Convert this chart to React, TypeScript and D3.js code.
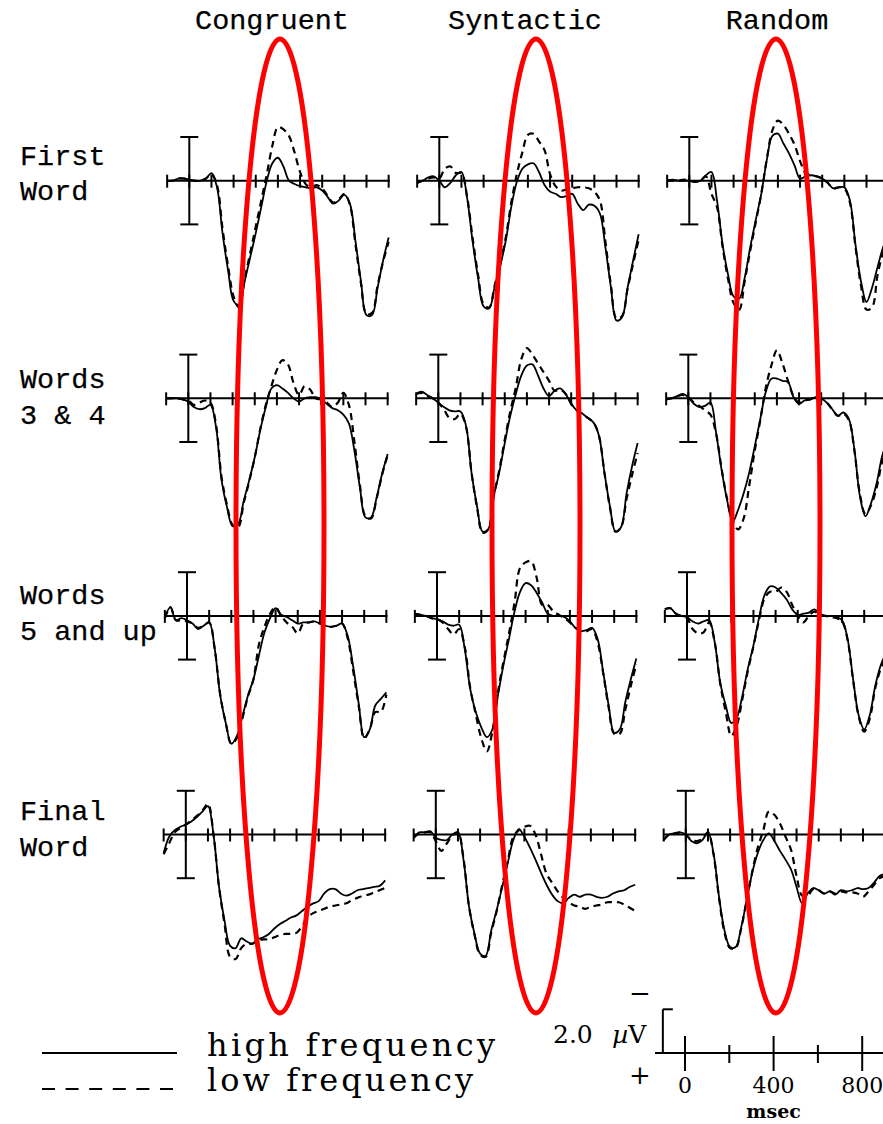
import React from 'react';
import * as d3 from 'd3';

// ---- data -----------------------------------------------------------------
// Sample times (ms relative to word onset) shared by every waveform.
const TIMES = [
  -100, -75, -50, -25, 0, 25, 50, 75, 100, 125, 150, 175, 200, 225, 250, 275, 300, 325, 350, 375,
  400, 425, 450, 475, 500, 525, 550, 575, 600, 625, 650, 675, 700, 725, 750, 775, 800, 825, 850, 875, 900,
];

const CONDITIONS = ['Congruent', 'Syntactic', 'Random'];
const POSITIONS = [
  ['First', 'Word'],
  ['Words', '3 & 4'],
  ['Words', '5 and up'],
  ['Final', 'Word'],
];

// Grand-average amplitudes in microvolts (negative plotted up).
const congruentFirstHigh = [0, 0, -0.1, -0.1, -0.05, 0, 0, -0.1, -0.35, 0.3, 2.4, 4.1, 5.5, 5.7, 4.6, 3.5, 2.4, 1.2, 0, -0.8, -1.05, -0.65, 0, 0.15, 0.25, 0.3, 0.35, 0.3, 0.45, 0.75, 1.05, 0.9, 0.65, 1.05, 2.75, 4.6, 6.15, 6.15, 4.9, 3.65, 2.6];
const congruentFirstLow = [0, 0, -0.1, -0.1, -0.05, 0, 0, -0.1, -0.3, 0.2, 2.2, 3.9, 5.3, 5.8, 4.5, 3.3, 2.1, 0.9, -0.3, -1.6, -2.45, -2.35, -2.05, -1.3, -0.4, 0.15, 0.3, 0.2, 0.35, 0.7, 1.0, 0.85, 0.6, 1.1, 2.9, 4.7, 6.1, 6.05, 4.8, 3.7, 2.8];
const syntacticFirstHigh = [0.1, 0, -0.15, -0.2, 0, 0.3, 0.1, -0.25, -0.4, 0.75, 2.75, 4.45, 5.75, 5.85, 4.85, 3.9, 2.75, 1.2, 0.05, -0.55, -0.75, -0.8, -0.4, 0.2, 0.5, 0.6, 0.75, 0.7, 0.6, 1.05, 1.35, 1.1, 1.15, 1.5, 3.05, 4.9, 6.4, 6.25, 4.9, 3.65, 2.45];
const syntacticFirstLow = [0.1, 0, -0.1, -0.15, -0.1, -0.55, -0.65, -0.35, -0.35, 0.7, 2.6, 4.3, 5.65, 5.8, 4.8, 3.8, 2.6, 1.0, -0.3, -1.3, -2.1, -2.15, -1.8, -1.4, -0.3, 0.25, 0.45, 0.4, 0.35, 0.3, 0.3, 0.35, 0.5, 0.9, 2.8, 4.8, 6.3, 6.2, 4.95, 3.8, 2.7];
const randomFirstHigh = [0, -0.05, 0, 0, 0, 0.05, 0, -0.25, -0.4, 0.9, 2.9, 4.3, 5.3, 5.4, 4.45, 3.05, 1.8, 0.6, -0.95, -2.05, -2.15, -1.7, -1.25, -0.7, -0.1, -0.2, -0.25, -0.2, -0.1, 0.1, 0.35, 0.3, 0.3, 0.9, 2.9, 4.6, 5.55, 4.9, 3.95, 3.05, 2.45];
const randomFirstLow = [0, 0, 0, -0.05, 0, 0.05, 0, -0.2, 0.6, 1.2, 3.0, 4.5, 5.6, 5.9, 4.6, 3.2, 1.9, 0.6, -1.0, -2.3, -2.75, -2.55, -2.15, -1.65, -0.9, -0.35, -0.25, -0.2, -0.1, 0.1, 0.35, 0.3, 0.35, 1.0, 3.0, 4.8, 5.9, 5.8, 4.3, 3.3, 2.6];

const congruentEarlyHigh = [0, 0, 0, 0.05, 0.15, 0.4, 0.5, 0.45, 0.3, 1.3, 3.75, 5.0, 5.85, 5.75, 4.7, 3.75, 2.7, 1.45, 0.4, -0.45, -0.6, -0.45, -0.25, 0, 0.15, 0, -0.05, -0.05, 0.05, 0.25, 0.45, 0.55, 0.75, 1.15, 2.4, 4.1, 5.45, 5.45, 4.55, 3.45, 2.55];
const congruentEarlyLow = [0, 0, 0, 0.05, 0.1, 0.3, 0.2, 0.1, 0.2, 1.2, 3.6, 4.9, 5.8, 5.9, 4.8, 3.8, 2.7, 1.4, 0.3, -0.55, -1.3, -1.75, -1.55, -0.7, -0.15, -0.55, -0.4, 0, 0.05, 0.2, 0.4, 0.2, -0.25, 0.3, 2.0, 4.0, 5.4, 5.5, 4.6, 3.5, 2.6];
const syntacticEarlyHigh = [-0.2, -0.3, -0.15, 0, 0.2, 0.4, 0.55, 0.6, 0.6, 1.25, 3.4, 4.95, 6.1, 6.0, 4.5, 3.4, 2.05, 0.8, -0.2, -1.05, -1.5, -1.55, -1.05, -0.45, -0.1, -0.35, -0.45, -0.2, 0.25, 0.55, 0.7, 0.9, 1.1, 1.7, 3.4, 4.95, 6.1, 5.9, 4.35, 3.1, 2.05];
const syntacticEarlyLow = [-0.2, -0.25, -0.1, 0, 0.2, 0.5, 0.9, 0.95, 0.7, 1.3, 3.4, 5.0, 6.15, 6.0, 4.5, 3.3, 1.9, 0.6, -0.5, -1.8, -2.3, -2.0, -1.6, -1.2, -0.8, -0.35, -0.4, -0.2, 0.25, 0.55, 0.7, 0.9, 1.1, 1.7, 3.4, 5.0, 6.1, 5.9, 4.6, 3.5, 2.5];
const randomEarlyHigh = [0.05, 0, -0.1, -0.2, -0.05, 0.25, 0.4, 0.35, 0.2, 1.55, 3.25, 4.65, 5.65, 5.1, 4.35, 3.4, 2.2, 0.95, -0.3, -0.9, -0.9, -0.8, -0.75, -0.05, 0.25, 0.1, 0.05, -0.05, 0, 0.2, 0.5, 0.8, 0.65, 0.95, 2.35, 4.5, 5.4, 4.8, 3.9, 2.65, 1.9];
const randomEarlyLow = [0.05, 0, -0.1, -0.15, -0.05, 0.2, 0.35, 0.55, 0.75, 1.6, 3.2, 4.6, 5.6, 6.0, 5.5, 4.0, 2.4, 1.0, -0.5, -1.5, -2.2, -1.6, -0.8, -0.1, 0.2, 0.1, 0.05, -0.05, 0, 0.2, 0.5, 0.8, 0.7, 1.0, 2.4, 4.4, 5.3, 4.9, 4.1, 2.9, 2.1];

const congruentLateHigh = [0.1, -0.4, 0.2, 0.1, 0.2, 0.35, 0.6, 0.45, 0.3, 1.5, 3.65, 4.9, 5.85, 5.5, 4.6, 3.65, 2.9, 1.8, 0.75, 0.1, -0.35, -0.05, 0.05, 0.2, 0.35, 0.3, 0.3, 0.25, 0.35, 0.45, 0.5, 0.45, 0.35, 0.9, 2.3, 4.0, 5.55, 5.2, 4.1, 3.8, 3.5];
const congruentLateLow = [0.1, -0.4, 0.2, 0.2, 0.25, 0.35, 0.55, 0.45, 0.3, 1.5, 3.6, 4.9, 5.85, 5.6, 4.7, 3.7, 2.9, 1.3, 0.5, -0.1, -0.4, 0.0, 0.3, 0.5, 0.8, 0.35, 0.3, 0.25, 0.35, 0.45, 0.5, 0.45, 0.35, 1.0, 2.5, 4.1, 5.6, 5.2, 4.4, 4.4, 3.6];
const syntacticLateHigh = [-0.1, -0.05, 0, 0.1, 0.15, 0.25, 0.4, 0.45, 0.4, 1.5, 3.35, 4.4, 5.1, 5.55, 5.2, 3.65, 2.25, 1.05, -0.2, -1.1, -1.5, -1.4, -1.05, -0.6, -0.1, 0, 0, 0.05, 0.25, 0.55, 0.7, 0.65, 0.55, 1.05, 2.55, 4.1, 5.35, 5.2, 3.95, 2.9, 1.95];
const syntacticLateLow = [-0.1, -0.05, 0, 0.1, 0.15, 0.3, 0.6, 0.85, 0.6, 1.4, 3.3, 4.5, 5.6, 6.2, 5.3, 3.5, 2.1, 0.8, -0.6, -2.2, -2.45, -2.5, -1.75, -0.5, -0.5, -0.2, -0.05, 0.1, 0.3, 0.55, 0.7, 0.7, 0.6, 1.2, 2.6, 4.2, 5.4, 5.4, 4.3, 3.2, 2.2];
const randomLateHigh = [-0.3, -0.35, -0.1, 0, 0.05, 0.25, 0.35, 0.25, 0.2, 1.2, 3.05, 4.1, 4.9, 4.65, 3.65, 2.4, 1.35, 0.1, -0.95, -1.35, -1.3, -1.05, -0.75, -0.3, -0.05, -0.1, -0.15, -0.3, -0.1, 0, 0, 0.05, 0.2, 1.05, 2.9, 4.55, 5.2, 4.55, 3.2, 2.25, 1.65];
const randomLateLow = [-0.3, -0.35, -0.1, 0, 0.1, 0.6, 0.8, 0.75, 0.3, 1.2, 3.1, 4.4, 5.5, 5.0, 3.8, 2.5, 1.4, 0.2, -0.8, -1.1, -1.1, -1.3, -1.1, -0.5, 0, 0.3, 0, -0.2, -0.05, 0, 0.05, 0.1, 0.25, 1.1, 2.95, 4.6, 5.3, 4.7, 3.3, 2.4, 1.8];

const congruentFinalHigh = [0.85, 0.1, -0.2, -0.35, -0.45, -0.6, -0.8, -1.05, -1.3, 0.0, 2.4, 3.95, 5.1, 5.2, 4.75, 4.9, 5.0, 4.8, 4.7, 4.55, 4.3, 4.1, 3.95, 3.8, 3.7, 3.5, 3.3, 3.15, 3.05, 2.7, 2.5, 2.5, 2.7, 2.8, 2.7, 2.55, 2.5, 2.45, 2.4, 2.35, 2.1];
const congruentFinalLow = [0.9, 0.4, -0.1, -0.3, -0.45, -0.65, -0.85, -1.1, -1.4, 0.0, 2.4, 4.1, 5.6, 5.7, 5.2, 5.0, 5.0, 4.85, 4.8, 4.8, 4.7, 4.6, 4.55, 4.55, 4.5, 4.2, 3.8, 3.6, 3.5, 3.4, 3.3, 3.25, 3.2, 3.15, 3.0, 2.9, 2.8, 2.75, 2.65, 2.55, 2.45];
const syntacticFinalHigh = [0.15, -0.1, -0.1, -0.15, 0.15, 0.25, 0.25, 0, -0.1, 1.15, 3.3, 4.55, 5.45, 5.55, 4.4, 3.45, 2.4, 1.3, 0.25, -0.25, 0.1, 0.6, 1.15, 1.75, 2.3, 2.75, 3.05, 3.15, 2.9, 2.75, 2.85, 2.75, 2.75, 2.85, 2.9, 2.85, 2.7, 2.6, 2.55, 2.4, 2.3];
const syntacticFinalLow = [0.15, -0.05, -0.1, -0.1, 0.3, 0.75, 0.4, 0.05, -0.1, 1.1, 3.3, 4.6, 5.5, 5.6, 4.5, 3.5, 2.3, 1.2, 0.1, -0.2, -0.35, -0.4, 0.0, 0.9, 1.8, 2.2, 2.6, 2.9, 3.1, 3.25, 3.3, 3.4, 3.3, 3.25, 3.2, 3.1, 3.1, 3.1, 3.2, 3.35, 3.5];
const randomFinalHigh = [0.25, 0, -0.05, -0.1, 0, 0.3, 0.4, 0.25, -0.1, 0.85, 2.85, 4.4, 5.15, 5.15, 4.25, 3.0, 1.75, 0.85, 0.25, -0.05, 0.3, 0.75, 1.15, 1.6, 2.4, 3.15, 2.7, 2.45, 2.55, 2.7, 2.6, 2.75, 2.55, 2.6, 2.55, 2.45, 2.5, 2.45, 2.2, 1.9, 1.8];
const randomFinalLow = [0.25, 0, -0.05, -0.1, 0, 0.25, 0.3, 0.2, -0.1, 0.9, 2.9, 4.5, 5.2, 5.2, 4.3, 3.0, 1.7, 0.6, -0.2, -1.05, -0.9, -0.5, 0.1, 0.7, 1.9, 2.8, 2.8, 2.5, 2.55, 2.7, 2.6, 2.7, 2.6, 2.65, 2.65, 2.7, 2.85, 2.6, 2.3, 2.0, 1.9];

// [row][column] -> [high frequency, low frequency]
const PANELS = [
  [[congruentFirstHigh, congruentFirstLow], [syntacticFirstHigh, syntacticFirstLow], [randomFirstHigh, randomFirstLow]],
  [[congruentEarlyHigh, congruentEarlyLow], [syntacticEarlyHigh, syntacticEarlyLow], [randomEarlyHigh, randomEarlyLow]],
  [[congruentLateHigh, congruentLateLow], [syntacticLateHigh, syntacticLateLow], [randomLateHigh, randomLateLow]],
  [[congruentFinalHigh, congruentFinalLow], [syntacticFinalHigh, syntacticFinalLow], [randomFinalHigh, randomFinalLow]],
];

const LEGEND_ITEMS = ['high frequency', 'low frequency'];
const SCALE_TICKS = [0, 200, 400, 600, 800];
const SCALE_LABELS = [0, 400, 800];
const CAL_UV = 2;

// ---- layout ---------------------------------------------------------------
const W = 883;
const H = 1124;
const MS_PX = 0.2215; // pixels per millisecond
const UV_PX = 21.85; // pixels per microvolt
const COL_ONSET_X = [189.3, 439.3, 689.3];
const ROW_DRIFT = [0, -1, -2.3, -3.5];
const ROW_BASE_Y = [180.7, 398.3, 615.9, 834.5];
const LABEL_Y = [[165, 200], [388, 424], [604, 640], [820, 856]];
const TITLE_X = [272, 525, 777];
const ELLIPSE_CX = [280, 536, 776];

const MONO = "'Liberation Mono', 'DejaVu Sans Mono', monospace";
const SERIF = "'DejaVu Serif', 'Liberation Serif', serif";

function Panel({ ox, oy, high, low }: { ox: number; oy: number; high: number[]; low: number[] }) {
  const x = d3.scaleLinear().domain([-100, 900]).range([ox - 100 * MS_PX, ox + 900 * MS_PX]);
  const y = d3.scaleLinear().domain([-CAL_UV, CAL_UV]).range([oy - CAL_UV * UV_PX, oy + CAL_UV * UV_PX]);
  const line = d3
    .line<number>()
    .x((_, i) => x(TIMES[i]))
    .y((d) => y(d))
    .curve(d3.curveCatmullRom.alpha(0.5));
  const ticks = x.ticks(10);
  return (
    <g>
      <line x1={x(-100)} x2={x(905)} y1={oy} y2={oy} stroke="#000" strokeWidth={2} />
      {ticks.map((t) => (
        <line key={t} x1={x(t)} x2={x(t)} y1={oy - 6} y2={oy + 7} stroke="#000" strokeWidth={2} />
      ))}
      <line x1={x(0)} x2={x(0)} y1={y(-CAL_UV)} y2={y(CAL_UV)} stroke="#000" strokeWidth={2} />
      <line x1={x(0) - 9} x2={x(0) + 9} y1={y(-CAL_UV)} y2={y(-CAL_UV)} stroke="#000" strokeWidth={2} />
      <line x1={x(0) - 9} x2={x(0) + 9} y1={y(CAL_UV)} y2={y(CAL_UV)} stroke="#000" strokeWidth={2} />
      <path d={line(high) ?? ''} fill="none" stroke="#000" strokeWidth={1.8} strokeLinejoin="round" />
      <path d={line(low) ?? ''} fill="none" stroke="#000" strokeWidth={2.2} strokeDasharray="7 5" />
    </g>
  );
}

export default function App() {
  // bottom-right calibration scale
  const sx = d3.scaleLinear().domain([0, 800]).range([685, 685 + 800 * MS_PX]);
  const sBase = 1053;
  const sy = d3.scaleLinear().domain([0, CAL_UV]).range([sBase, sBase - CAL_UV * UV_PX]);
  const barX = sx(-100);

  return (
    <svg
      width={W}
      height={H}
      viewBox={`0 0 ${W} ${H}`}
      style={{ position: 'absolute', left: 0, top: 0, background: '#fff', display: 'block' }}
    >
      <rect width={W} height={H} fill="#fff" />

      {CONDITIONS.map((c, i) => (
        <text key={c} x={TITLE_X[i]} y={29} textAnchor="middle" fontFamily={MONO} fontSize={28.5} fill="#000" stroke="#000" strokeWidth={0.25}>
          {c}
        </text>
      ))}

      {POSITIONS.map((lines, r) =>
        lines.map((s, k) => (
          <text key={`${r}-${k}`} x={20} y={LABEL_Y[r][k]} fontFamily={MONO} fontSize={28.5} fill="#000" stroke="#000" strokeWidth={0.25} xmlSpace="preserve">
            {s}
          </text>
        ))
      )}

      {PANELS.map((row, r) =>
        row.map(([high, low], c) => (
          <Panel key={`${r}-${c}`} ox={COL_ONSET_X[c] + ROW_DRIFT[r]} oy={ROW_BASE_Y[r]} high={high} low={low} />
        ))
      )}

      {/* legend */}
      <line x1={42} x2={177} y1={1053} y2={1053} stroke="#000" strokeWidth={2} />
      <line x1={42} x2={173} y1={1089} y2={1089} stroke="#000" strokeWidth={2} strokeDasharray="13 10.6" />
      <text x={207} y={1056} fontFamily={SERIF} fontSize={32} textLength={288} lengthAdjust="spacing" fill="#000">
        {LEGEND_ITEMS[0]}
      </text>
      <text x={207} y={1091} fontFamily={SERIF} fontSize={32} textLength={266} lengthAdjust="spacing" fill="#000">
        {LEGEND_ITEMS[1]}
      </text>

      {/* calibration scale */}
      <line x1={655} x2={W} y1={sBase} y2={sBase} stroke="#000" strokeWidth={2} />
      <line x1={barX} x2={barX} y1={sy(0)} y2={sy(CAL_UV)} stroke="#000" strokeWidth={2} />
      <line x1={barX} x2={barX + 10} y1={sy(CAL_UV)} y2={sy(CAL_UV)} stroke="#000" strokeWidth={2} />
      {SCALE_TICKS.map((t) => {
        const major = SCALE_LABELS.includes(t);
        return (
          <line key={t} x1={sx(t)} x2={sx(t)} y1={major ? sBase - 17 : sBase - 8} y2={major ? sBase + 18 : sBase + 10} stroke="#000" strokeWidth={2} />
        );
      })}
      {SCALE_LABELS.map((t) => (
        <text key={t} x={sx(t)} y={1093} textAnchor="middle" fontFamily={SERIF} fontSize={22} fill="#000">
          {t}
        </text>
      ))}
      <text x={sx(400)} y={1118} textAnchor="middle" fontFamily={SERIF} fontSize={19} fontWeight="bold" fill="#000">
        msec
      </text>
      <text x={553} y={1043} fontFamily={SERIF} fontSize={25} fill="#000">
        {CAL_UV.toFixed(1)}
      </text>
      <text x={612} y={1043} fontFamily={SERIF} fontSize={25} fill="#000">
        <tspan fontStyle="italic">µ</tspan>V
      </text>
      <text x={640} y={1002} textAnchor="middle" fontFamily={SERIF} fontSize={26} fill="#000">
        −
      </text>
      <text x={640} y={1084} textAnchor="middle" fontFamily={SERIF} fontSize={26} fill="#000">
        +
      </text>

      {/* highlighted N400 window */}
      {ELLIPSE_CX.map((cx) => (
        <ellipse key={cx} cx={cx} cy={526} rx={44} ry={487} fill="none" stroke="#ff0000" strokeWidth={5} />
      ))}
    </svg>
  );
}
